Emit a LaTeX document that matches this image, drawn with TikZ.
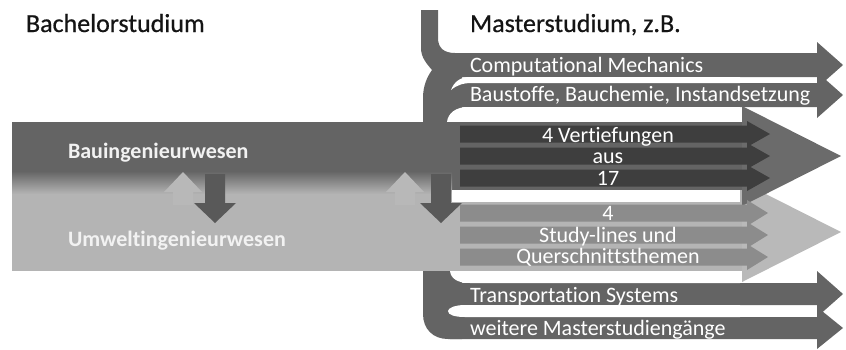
\documentclass[tikz,border=0pt]{standalone}
\usepackage{fontspec}
\setmainfont{Carlito}[Ligatures=NoCommon]
\newfontfamily\titlefont{Carlito}[Ligatures=NoCommon,FakeBold=0.6]
\definecolor{master}{HTML}{646464}
\definecolor{darkband}{HTML}{646464}
\definecolor{darkhead}{HTML}{6B6B6B}
\definecolor{lightband}{HTML}{B4B4B4}
\definecolor{lighthead}{HTML}{B9B9B9}
\definecolor{vert}{HTML}{3E3E3E}
\definecolor{study}{HTML}{8C8C8C}
\definecolor{uparr}{HTML}{B8B8B8}
\definecolor{downarr}{HTML}{595959}
\definecolor{titlec}{HTML}{141414}
% #1 colour, #2 body start x, #3 head base x, #4 tip x, #5 centre y, #6 body half height, #7 head half height
\newcommand\rArrow[7]{\fill[#1] (#2,#5-#6) -- (#3,#5-#6) -- (#3,#5-#7) -- (#4,#5) -- (#3,#5+#7) -- (#3,#5+#6) -- (#2,#5+#6) -- cycle;}
\begin{document}
\begin{tikzpicture}[x=1pt,y=-1pt,
  every node/.style={inner sep=0pt, outer sep=0pt},
  ttl/.style={font=\titlefont\fontsize{26}{30}\selectfont, text=titlec, anchor=base west},
  lbl/.style={font=\fontsize{22}{24}\selectfont, text=white, anchor=base west},
  clbl/.style={font=\fontsize{22}{24}\selectfont, text=white, anchor=base},
  blbl/.style={font=\bfseries\fontsize{22}{24}\selectfont, text=white!95!black, anchor=base west}]
\useasboundingbox (0,0) rectangle (846,349);

% connector and master arrows
\fill[master] (421,10) -- (438,10) -- (438,38) .. controls (438,48) and (444,53) .. (455,53) -- (462,53) -- (462,339) -- (448,339) .. controls (433,339) and (423,329) .. (423,314) -- (423,98) .. controls (423,86) and (427,77) .. (432,70) .. controls (426,63) and (421,57) .. (421,48) -- cycle;
\rArrow{master}{450}{817}{843}{65}{12}{23}
\rArrow{master}{450}{817}{843}{95}{12}{23}
\rArrow{master}{450}{817}{843}{294}{11}{23}
\rArrow{master}{450}{817}{843}{328}{11}{21}

% white gaps
\fill[white] (740,77) -- (470,77) .. controls (460,77) and (454,82) .. (451,90) .. controls (457,85) and (463,83) .. (472,83) -- (740,83) -- cycle;
\fill[white] (740,107) -- (468,107) .. controls (456,107) and (448,113) .. (447,122) -- (740,122) -- cycle;
\fill[white] (740,271) -- (450,271) .. controls (451,279) and (458,283) .. (470,283) -- (740,283) -- cycle;
\fill[white] (740,305) -- (465,305) .. controls (455,305) and (448,308) .. (448,311) .. controls (448,315) and (455,317) .. (465,317) -- (740,317) -- cycle;

% bands and big heads
\fill[lighthead] (742,182) -- (841,232) -- (742,282) -- cycle;
\fill[darkhead] (742,106) -- (841,156) -- (742,206) -- cycle;
\fill[darkband] (12,122) rectangle (742,190);
\fill[lightband] (12,190) rectangle (742,271);
\shade[top color=darkband, bottom color=lightband] (12,171) rectangle (452,194);

% Vertiefungen and study-lines
\rArrow{vert}{460}{747}{770}{134}{8.5}{13}
\rArrow{vert}{460}{747}{770}{156}{8.5}{13}
\rArrow{vert}{460}{747}{770}{178}{8.5}{13}
\fill[white] (452,190) rectangle (740,202);
\rArrow{study}{460}{747}{768}{213}{8.5}{13}
\rArrow{study}{460}{747}{768}{235}{8.5}{13}
\rArrow{study}{460}{747}{768}{257}{8.5}{13}

% exchange arrows
\fill[uparr] (173,205) -- (173,192) -- (164,192) -- (183,172) -- (202,192) -- (193,192) -- (193,205) -- cycle;
\fill[downarr] (205,174) -- (225,174) -- (225,203) -- (236,203) -- (215,223) -- (194,203) -- (205,203) -- cycle;
\fill[uparr] (395,205) -- (395,192) -- (386,192) -- (405,172) -- (424,192) -- (415,192) -- (415,205) -- cycle;
\fill[downarr] (431,174) -- (451,174) -- (451,203) -- (462,203) -- (441,223) -- (420,203) -- (431,203) -- cycle;

% texts
\node[ttl] (bach) at (26,32) {Bachelorstudium};
\node[ttl] (mast) at (470,32) {Masterstudium, z.B.};
\node[lbl] (cm) at (470,72) {Computational Mechanics};
\node[lbl] (bs) at (470,101) {Baustoffe, Bauchemie, Instandsetzung};
\node[blbl] (bau) at (68,158) {Bauingenieurwesen};
\node[blbl] (umw) at (68,246) {Umweltingenieurwesen};
\node[clbl] (v1) at (608,142) {4 Vertiefungen};
\node[clbl] (v2) at (608,163) {aus};
\node[clbl] (v3) at (608,185) {17};
\node[clbl] (s1) at (608,220) {4};
\node[clbl] (s2) at (608,242) {Study-lines und};
\node[clbl] (s3) at (608,263) {Querschnittsthemen};
\node[lbl] (tr) at (470,302) {Transportation Systems};
\node[lbl] (wm) at (470,335) {weitere Masterstudiengänge};
\end{tikzpicture}
\end{document}
